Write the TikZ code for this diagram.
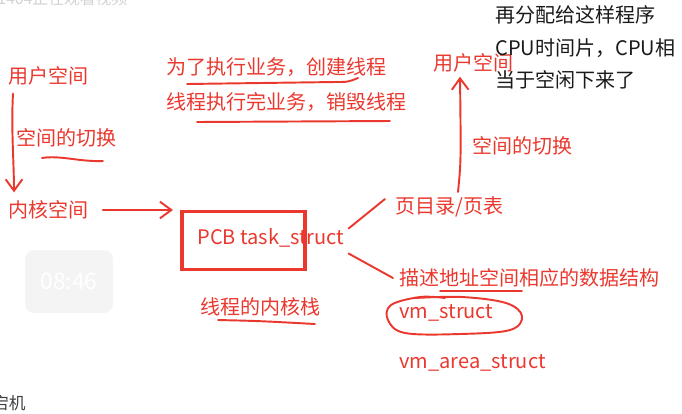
\documentclass[tikz,border=0pt]{standalone}
\usepackage{fontspec}
\setmainfont{Noto Sans CJK SC}
\usetikzlibrary{arrows.meta}
\definecolor{pen}{RGB}{234,56,46}
\definecolor{note}{RGB}{26,26,26}
\begin{document}
\begin{tikzpicture}[x = 0.02cm, y = -0.02cm,
  txt/.style = {text = pen, anchor = west, inner sep = 0pt, font = \fontsize{11.4}{13}\selectfont},
  blk/.style = {txt, text = note},
  ink/.style = {draw = pen, line width = 1.1pt, line cap = round, line join = round},
  barb/.style = {ink, -{Straight Barb[length = 6.5pt, width = 9.5pt]}}]
\useasboundingbox (0,0) rectangle (682,413);
\clip (0,0) rectangle (682,413);
% screen overlays
\node [anchor = west, inner sep = 0pt, text = gray!35, font = \fontsize{9}{10}\selectfont] (watermark) at (-3,-1) {1404正在观看视频};
\node [fill = gray!9, rounded corners = 5pt, minimum width = 1.76cm, minimum height = 1.26cm, text = white, font = \fontsize{13}{14}\selectfont] (clock) at (69,281.5) {08:46};
\node [anchor = east, inner sep = 0pt, text = black!75, font = \fontsize{9.5}{10}\selectfont] (corner) at (26,403) {宕机};
% left side
\node [txt] (user1) at (8,76) {用户空间};
\node [txt] (switch1) at (16,138) {空间的切换};
\node [txt] (kern) at (8,210) {内核空间};
\draw [barb] ([shift = {(5,8)}]user1.south west) .. controls +(-2,35) and +(0,-30) .. ([shift = {(6,-8)}]kern.north west);
\draw [ink] (42,158) .. controls (60,155) and (80,162) .. (103,161);
\draw [barb] ([xshift = 8]kern.east) -- ([xshift = -4]kern.east -| 180,0);
% threads
\node [txt] (create) at (166,67) {为了执行业务，创建线程};
\node [txt] (destroy) at (166,102) {线程执行完业务，销毁线程};
\draw [ink] (187,84) -- (335,82) .. controls (348,82) .. (358,78);
\draw [ink] (197,122) -- (390,121);
% pcb
\node [draw = pen, line width = 1.8pt, minimum width = 2.46cm, minimum height = 1.16cm] (pcbbox) at (243.5,240.5) {};
\node [txt] (pcb) at (197,238) {PCB task\_struct};
\node [txt] (kstack) at (200,307) {线程的内核栈};
\draw [ink] (218,320) .. controls (260,321) .. (315,324);
% right side
\node [txt] (user2) at (433,63) {用户空间};
\node [txt] (switch2) at (472,146) {空间的切换};
\node [txt] (pagetab) at (395,207) {页目录/页表};
\node [txt] (addr) at (399,278) {描述地址空间相应的数据结构};
\node [txt] (vms) at (399,313) {vm\_struct};
\node [txt] (vmarea) at (399,363) {vm\_area\_struct};
\draw [barb] ([shift = {(63,-15)}]pagetab.west) .. controls +(3,-30) .. ([shift = {(27,4)}]user2.south west);
\draw [ink] ([shift = {(42,-12)}]pcbbox.east) -- ([shift = {(-10,-8)}]pagetab.west);
\draw [ink] ([shift = {(42,13)}]pcbbox.east) -- ([shift = {(-6,0)}]addr.west);
\draw [ink] (440,291) -- (522,291);
\draw [ink] plot [smooth, tension = 0.6] coordinates {(415,298) (462,297) (506,303) (522,316) (510,330) (460,334) (405,333) (388,320) (391,305) (420,297) (445,298)};
% note
\node [blk] (note1) at (495,15) {再分配给这样程序};
\node [blk] (note2) at (495,48) {CPU时间片，CPU相};
\node [blk] (note3) at (495,80) {当于空闲下来了};
\end{tikzpicture}
\end{document}
